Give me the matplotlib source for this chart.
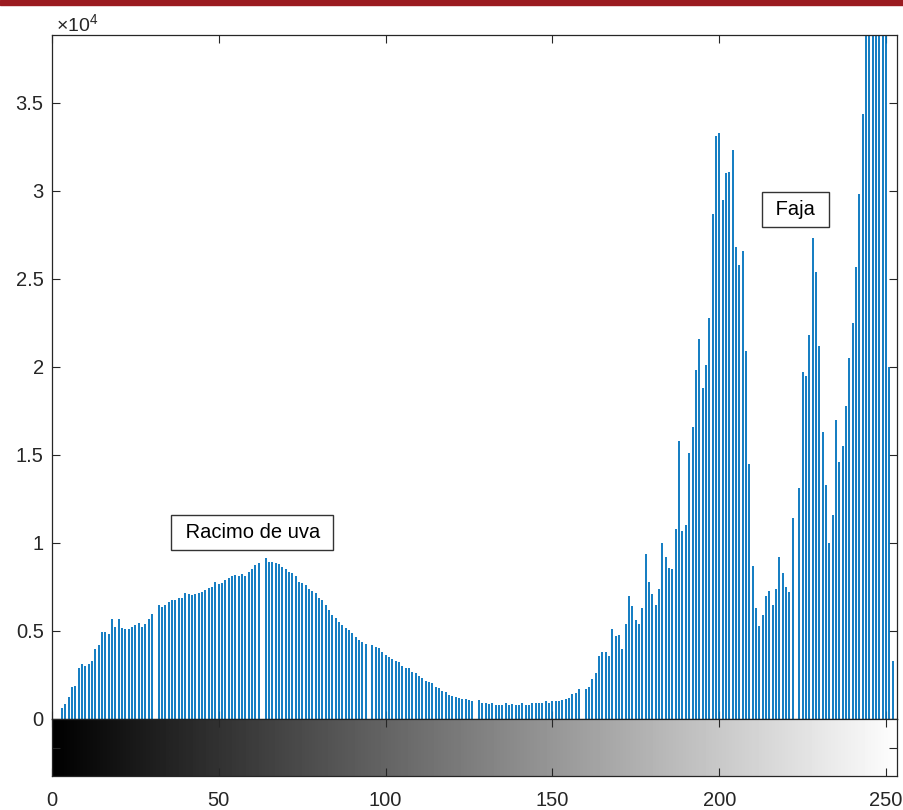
import numpy as np
import matplotlib
matplotlib.use("Agg")
import matplotlib.pyplot as plt
from matplotlib.patches import Rectangle

plt.rcParams["font.family"] = ["Liberation Sans", "DejaVu Sans"]
plt.rcParams["mathtext.fontset"] = "custom"
plt.rcParams["mathtext.rm"] = "Liberation Sans"

# ── datos (histograma de niveles de gris, en unidades de 1e4) ─────────
niveles = np.arange(256)
cuentas_e4 = [
    0, 0, 0, 0.061, 0.084, 0.127, 0.184, 0.19, 0.292, 0.31,            # 0-9
    0.301, 0.31, 0.331, 0.398, 0.42, 0.496, 0.496, 0.483, 0.568, 0.521,  # 10-19
    0.568, 0.515, 0.511, 0.511, 0.521, 0.534, 0.544, 0.525, 0.54, 0.568, # 20-29
    0.597, 0, 0.648, 0.638, 0.648, 0.663, 0.676, 0.676, 0.686, 0.686,    # 30-39
    0.714, 0.708, 0.705, 0.71, 0.718, 0.723, 0.733, 0.742, 0.752, 0.776, # 40-49
    0.765, 0.775, 0.79, 0.80, 0.81, 0.82, 0.815, 0.825, 0.815, 0.835,    # 50-59
    0.855, 0.875, 0.885, 0, 0.913, 0.894, 0.894, 0.885, 0.88, 0.866,     # 60-69
    0.85, 0.837, 0.828, 0.81, 0.78, 0.77, 0.76, 0.74, 0.73, 0.714,       # 70-79
    0.686, 0.676, 0.648, 0.62, 0.591, 0.572, 0.553, 0.534, 0.515, 0.506, # 80-89
    0.49, 0.468, 0.449, 0.44, 0.426, 0, 0.42, 0.411, 0.402, 0.383,       # 90-99
    0.364, 0.35, 0.34, 0.33, 0.326, 0.30, 0.29, 0.288, 0.265, 0.26,      # 100-109
    0.244, 0.235, 0.216, 0.208, 0.203, 0.184, 0.175, 0.16, 0.155, 0.136, # 110-119
    0.13, 0.127, 0.118, 0.114, 0.114, 0.108, 0.104, 0, 0.108, 0.093,     # 120-129
    0.089, 0.085, 0.089, 0.08, 0.08, 0.08, 0.089, 0.08, 0.085, 0.08,     # 130-139
    0.08, 0.089, 0.08, 0.08, 0.089, 0.089, 0.089, 0.093, 0.104, 0.089,   # 140-149
    0.104, 0.10, 0.105, 0.11, 0.115, 0.12, 0.14, 0.145, 0.17, 0,         # 150-159
    0.17, 0.18, 0.23, 0.26, 0.36, 0.38, 0.38, 0.36, 0.51, 0.47,          # 160-169
    0.48, 0.40, 0.54, 0.70, 0.64, 0.56, 0.54, 0.63, 0.94, 0.78,          # 170-179
    0.71, 0.65, 0.74, 1.00, 0.92, 0.86, 0.85, 1.08, 1.58, 1.07,          # 180-189
    1.10, 1.51, 1.66, 1.98, 2.16, 1.88, 2.01, 2.28, 2.87, 3.31,          # 190-199
    3.33, 2.95, 3.10, 3.11, 3.23, 2.68, 2.58, 2.66, 2.09, 1.45,          # 200-209
    0.87, 0.63, 0.53, 0.59, 0.70, 0.73, 0.65, 0.74, 0.92, 0.83,          # 210-219
    0.75, 0.72, 1.14, 0, 1.31, 1.97, 1.95, 2.18, 2.73, 2.54,             # 220-229
    2.12, 1.63, 1.33, 1.00, 1.16, 1.70, 1.46, 1.55, 1.78, 2.05,          # 230-239
    2.25, 2.57, 2.98, 3.44, 4.1, 4.5, 4.9, 5.2, 5.0, 4.7,                # 240-249
    4.3, 2.0, 0.33, 0, 0, 0,                                             # 250-255
]
cuentas = np.array(cuentas_e4) * 1e4

x_ticks = [0, 50, 100, 150, 200, 250]
y_ticks_e4 = [0, 0.5, 1, 1.5, 2, 2.5, 3, 3.5]
y_labels = ["0", "0.5", "1", "1.5", "2", "2.5", "3", "3.5"]
etiquetas = ["Racimo de uva", "Faja"]
etiq_x = [60.1, 222.9]
etiq_y = [1.06e4, 2.895e4]

# ── figura ─────────────────────────────────────────────────────────────
W, H = 904, 810
fig = plt.figure(figsize=(W / 100, H / 100), dpi=100)
fig.add_artist(Rectangle((0, 1 - 5 / H), 1, 5 / H, transform=fig.transFigure,
                         color="#9b1b20", zorder=0))

gris = "#262626"
izq, der = 52, 897
ax = fig.add_axes([izq / W, 1 - 719 / H, (der - izq) / W, (719 - 35) / H])
cax = fig.add_axes([izq / W, 1 - 776 / H, (der - izq) / W, (776 - 719) / H])

# histograma tipo stem
ax.vlines(niveles, 0, cuentas, color="#0072BD", lw=1.3)
ax.set_xlim(0, 253.3)
ax.set_ylim(0, 38860)
ax.set_xticks(x_ticks)
ax.set_xticklabels([])
ax.set_yticks(np.array(y_ticks_e4) * 1e4)
ax.set_yticklabels(y_labels)
ax.tick_params(axis="both", direction="in", length=6, width=0.8, colors=gris,
               labelsize=14.5, top=True, right=True, pad=6)
for s in ax.spines.values():
    s.set_color(gris)
    s.set_linewidth(0.9)

fig.text(56 / W, 1 - 32 / H, r"$\times10^{4}$", fontsize=14, color=gris,
         ha="left", va="baseline")

for txt, xx, yy in zip(etiquetas, etiq_x, etiq_y):
    ax.text(xx, yy, " " + txt + " ", ha="center", va="center", fontsize=14.5,
            color="black",
            bbox=dict(boxstyle="square,pad=0.4", fc="white", ec="#333333", lw=1.0))

# barra de grises
cax.imshow(np.arange(256)[None, :], cmap="gray", aspect="auto",
           extent=[0, 255, 0, 1], interpolation="bilinear")
cax.set_xlim(0, 253.3)
cax.set_ylim(0, 1)
cax.set_xticks(x_ticks)
cax.set_yticks([0.5])
cax.set_yticklabels([])
cax.tick_params(axis="both", direction="in", length=6, width=0.8, colors=gris,
                labelsize=14.5, top=True, right=True, pad=11)
for s in cax.spines.values():
    s.set_color(gris)
    s.set_linewidth(0.9)

fig.savefig("out.png", dpi=100)
